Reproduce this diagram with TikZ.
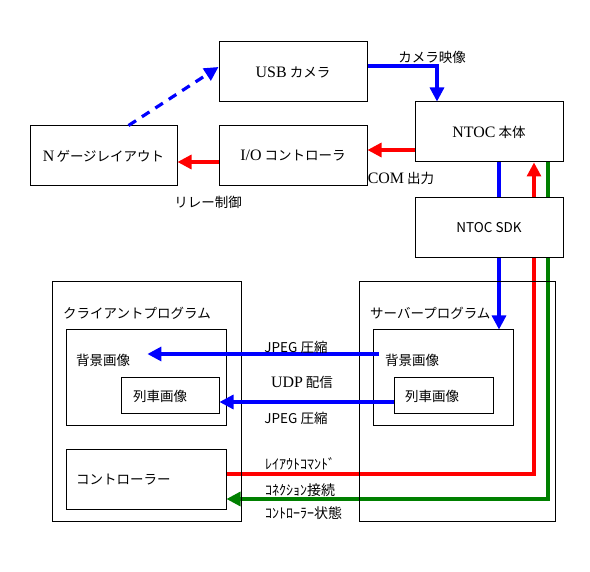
\documentclass[tikz,border=0pt]{standalone}
\usepackage{fontspec}
\setmainfont{Noto Sans CJK JP}
\newfontfamily\rom[Scale=1.18]{Liberation Serif}
\usetikzlibrary{arrows.meta,backgrounds}
\definecolor{linkgreen}{RGB}{0,128,0}
\tikzset{
  box/.style={draw, line width=1pt, minimum width=148pt, minimum height=60pt, inner sep=0pt},
  frame/.style={draw, line width=1pt, inner sep=0pt},
  txt/.style={inner sep=0pt},
  link/.style={line width=3.2pt, -{Triangle[length=14pt,width=14pt]}},
  half/.style={inner sep=0pt, anchor=west, font=\fontsize{14}{16}\selectfont},
}

\begin{document}
\begin{tikzpicture}[x=1pt, y=-1pt, font=\fontsize{13.5}{16}\selectfont]
      \useasboundingbox (0,0) rectangle (590,572);
      \node[box] (usb) at (293,72) {{\rom USB} カメラ};
      \node[box] (ntoc) at (489,132) {{\rom NTOC} 本体};
      \node[box] (io) at (293,156) {{\rom I/O} コントローラ};
      \node[box, minimum width=147pt] (gauge) at (103.5,156) {{\rom N}\,ゲージレイアウト};
      \node[box, fill=white] (sdk) at (489,228) {NTOC SDK};

      \node[frame, minimum width=189pt, minimum height=240pt] (client) at (146.5,402) {};
      \node[frame, minimum width=160pt, minimum height=96pt] (cbg) at (146,378) {};
      \node[frame, minimum width=98pt, minimum height=36pt] (ctrain) at (170,396) {};
      \node[frame, minimum width=160pt, minimum height=60pt] (cctrl) at (146,480) {};
      \node[txt, anchor=west] (clienttitle) at (63,313) {クライアントプログラム};
      \node[txt, anchor=west] (cbgtext) at (76,360) {背景画像};
      \node[txt, anchor=west] (ctraintext) at (133,396) {列車画像};
      \node[txt, anchor=west] (cctrltext) at (76,480) {コントローラー};

      \node[frame, minimum width=196pt, minimum height=240pt] (server) at (457,402) {};
      \node[frame, minimum width=140pt, minimum height=96pt] (sbg) at (443,378) {};
      \node[frame, minimum width=99pt, minimum height=36pt] (strain) at (443.5,396) {};
      \node[txt, anchor=west] (servertitle) at (370,313) {サーバープログラム};
      \node[txt, anchor=west] (sbgtext) at (385,360) {背景画像};
      \node[txt, anchor=west] (straintext) at (405,396) {列車画像};

      \draw[blue, link, dash pattern=on 9pt off 7pt] ([xshift=25pt]gauge.north) -- ([yshift=5pt]usb.west);
      \draw[blue, link] ([yshift=6pt]usb.east) -| ([xshift=-52pt]ntoc.north);
      \node[txt] (camlbl) at (432,57) {カメラ映像};
      \draw[red, link] ([yshift=-18pt]ntoc.west) -- ([yshift=6pt]io.east);
      \node[txt] (comlbl) at (401,178) {{\rom COM} 出力};
      \draw[red, link] ([yshift=-6pt]io.west) -- ([yshift=-6pt]gauge.east);
      \node[txt] (relaylbl) at (208,202) {リレー制御};

      \begin{scope}[on background layer]
        \draw[blue, link] ([xshift=10pt]ntoc.south) -- ([xshift=10pt]ntoc.south |- sbg.north);
        \draw[red, link] ([yshift=6pt]cctrl.east) -| ([xshift=45pt]ntoc.south);
        \draw[linkgreen, link] ([xshift=59pt]ntoc.south) |- ([yshift=-19pt]cctrl.east);
      \end{scope}

      \draw[blue, link] ([shift={(-6pt,6pt)}]sbgtext.west) -- ([shift={(17pt,6pt)}]cbgtext.east);
      \draw[blue, link] ([yshift=-6pt]strain.west) -- ([yshift=-6pt]ctrain.east);
      \node[txt] (jpeg1) at (296,347) {JPEG 圧縮};
      \node[txt] (udp) at (302,382) {{\rom UDP} 配信};
      \node[txt] (jpeg2) at (296,418) {JPEG 圧縮};

      \node[half] (cmdlbl) at (265,464) {ﾚｲｱｳﾄｺﾏﾝﾄﾞ};
      \node[half] (connlbl) at (265,490) {ｺﾈｸｼｮﾝ接続};
      \node[half] (statelbl) at (265,513) {ｺﾝﾄﾛｰﾗｰ状態};
    \end{tikzpicture}
\end{document}
